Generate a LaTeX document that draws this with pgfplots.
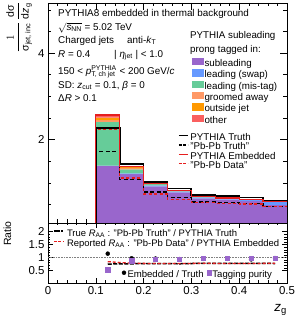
\documentclass[border=0pt]{standalone}
\usepackage{fontspec}
\setmainfont{Liberation Sans}
\usepackage{amsmath}
\usepackage{pgfplots}
\usepackage{pgfplotstable}
\pgfplotsset{compat=1.18}

\definecolor{cSub}{RGB}{153,102,204}
\definecolor{cSwap}{RGB}{102,153,255}
\definecolor{cMis}{RGB}{102,204,153}
\definecolor{cGroom}{RGB}{255,153,102}
\definecolor{cOut}{RGB}{255,153,0}
\definecolor{cOther}{RGB}{250,95,95}
\definecolor{cRed}{RGB}{230,30,30}

\pgfplotstableread{
x sub swap mis groom out other
0.125 1.39 0.01 1.01 0.04 0.06 0.06
0.175 1.20 0.02 0.09 0.03 0.02 0.01
0.225 0.92 0.02 0.03 0.01 0.005 0.005
0.275 0.78 0.02 0.01 0.005 0.003 0.002
0.325 0.64 0.025 0.01 0.003 0.001 0.001
0.375 0.61 0.03 0.007 0.002 0.0005 0.0005
0.425 0.575 0.035 0.007 0.002 0.0005 0.0005
0.475 0.49 0.075 0.004 0.001 0 0
}\stacktab

\pgfplotstableread{
x truth pbtruth emb data
0.10 0 0 0 0
0.10 2.26 1.72 2.57 2.24
0.15 1.43 1.08 1.37 1.11
0.20 1.02 0.79 0.99 0.74
0.25 0.87 0.66 0.82 0.62
0.30 0.72 0.56 0.68 0.54
0.35 0.69 0.55 0.65 0.53
0.40 0.66 0.52 0.62 0.51
0.45 0.58 0.45 0.57 0.45
0.50 0.58 0.45 0.57 0.45
}\histtab

\pgfplotstableread{
x true rep emb pur
0.125 0.75 0.84 1.15 0.53
0.175 0.76 0.78 0.97 0.88
0.225 0.77 0.77 0.96 0.94
0.275 0.76 0.77 0.94 0.94
0.325 0.78 0.78 0.95 0.96
0.375 0.78 0.77 0.95 0.96
0.425 0.78 0.77 0.93 0.96
0.475 0.77 0.78 0.98 0.97
}\ratiotab

\pgfplotsset{
  rootax/.style={scale only axis, anchor=south west, xmin=0, xmax=0.5,
    axis line style={line width=0.6bp}, tick style={line width=0.5bp, black},
    tick align=inside, xtick pos=both, ytick pos=both,
    xtick={0,0.1,0.2,0.3,0.4,0.5}, minor x tick num=4,
    /pgf/number format/assume math mode=true,
    tick label style={font=\fontsize{11.5}{11.5}\selectfont},
    clip=true},
  legax/.style={at={(0bp,0bp)}, anchor=south west, scale only axis, width=298bp, height=317bp,
    xmin=0, xmax=1, ymin=0, ymax=1, hide axis, legend cell align=left}
}

\begin{document}
\begin{tikzpicture}[x=1bp,y=1bp]
% ---------------- upper panel
\begin{axis}[rootax, at={(48bp,94bp)}, width=239bp, height=220bp,
  ymin=0.07, ymax=5.16, ytick={2,4}, yticklabels={2,4},
  minor ytick={0.5,1,1.5,2.5,3,3.5,4.5,5},
  xticklabels={},
  major tick length=7bp, minor tick length=3.5bp]
\addplot[ybar stacked, bar width=0.05, fill=cSub, draw=none] table[x=x,y=sub]{\stacktab};
\addplot[ybar stacked, bar width=0.05, fill=cSwap, draw=none] table[x=x,y=swap]{\stacktab};
\addplot[ybar stacked, bar width=0.05, fill=cMis, draw=none] table[x=x,y=mis]{\stacktab};
\addplot[ybar stacked, bar width=0.05, fill=cGroom, draw=none] table[x=x,y=groom]{\stacktab};
\addplot[ybar stacked, bar width=0.05, fill=cOut, draw=none] table[x=x,y=out]{\stacktab};
\addplot[ybar stacked, bar width=0.05, fill=cOther, draw=none] table[x=x,y=other]{\stacktab};
\addplot[const plot, black, line width=1.8bp] table[x=x,y=truth]{\histtab};
\addplot[const plot, black, line width=1.5bp, dash pattern=on 4bp off 2.5bp] table[x=x,y=pbtruth]{\histtab};
\addplot[const plot, cRed, line width=1.2bp] table[x=x,y=emb]{\histtab};
\addplot[const plot, cRed, line width=1.2bp, dash pattern=on 3bp off 2.5bp] table[x=x,y=data]{\histtab};
\end{axis}
% ---------------- ratio panel
\begin{axis}[rootax, at={(48bp,34bp)}, width=239bp, height=60bp,
  ymin=0.02, ymax=2.33, ytick={0.5,1,1.5,2}, minor y tick num=4,
  major tick length=5bp, minor tick length=2.5bp]
\addplot[gray, densely dotted, line width=0.6bp] coordinates {(0,1) (0.5,1)};
\addplot[black, line width=1.5bp, dash pattern=on 4bp off 1.5bp] table[x=x,y=true]{\ratiotab};
\addplot[cRed, line width=1.3bp, dash pattern=on 3bp off 2bp] table[x=x,y=rep]{\ratiotab};
\addplot[only marks, mark=*, black, mark size=2bp] table[x=x,y=emb]{\ratiotab};
\addplot[only marks, mark=square*, cSub, mark size=2.1bp] table[x=x,y=pur]{\ratiotab};
\end{axis}

% ---------------- legends
\begin{axis}[legax,
  legend style={at={(0.6443,0.8164)}, anchor=north west, draw=none, fill=none,
    inner sep=0pt, outer sep=0pt, row sep=0pt, column sep=1bp,
    font=\fontsize{9.8}{9.8}\selectfont,
    nodes={inner sep=0pt, text height=6.8bp, text depth=2.8bp}},
  legend image code/.code={\fill[#1] (0bp,-0.8bp) rectangle (11.5bp,6.5bp);}]
\addlegendimage{fill=cSub, draw=none}\addlegendentry{subleading}
\addlegendimage{fill=cSwap, draw=none}\addlegendentry{leading (swap)}
\addlegendimage{fill=cMis, draw=none}\addlegendentry{leading (mis-tag)}
\addlegendimage{fill=cGroom, draw=none}\addlegendentry{groomed away}
\addlegendimage{fill=cOut, draw=none}\addlegendentry{outside jet}
\addlegendimage{fill=cOther, draw=none}\addlegendentry{other}
\end{axis}

\begin{axis}[legax,
  legend style={at={(0.5973,0.5782)}, anchor=north west, draw=none, fill=none,
    inner sep=0pt, outer sep=0pt, row sep=0pt, column sep=1.5bp,
    font=\fontsize{9.8}{9.8}\selectfont,
    nodes={inner sep=0pt, text height=6.8bp, text depth=2.5bp}},
  legend image code/.code={\draw[#1] (0bp,2.8bp) -- (9bp,2.8bp);}]
\addlegendimage{black, line width=1.8bp}\addlegendentry{PYTHIA Truth}
\addlegendimage{black, line width=1.5bp, dash pattern=on 3bp off 1.5bp}\addlegendentry{"Pb-Pb Truth"}
\addlegendimage{cRed, line width=1.2bp}\addlegendentry{PYTHIA Embedded}
\addlegendimage{cRed, line width=1.2bp, dash pattern=on 3bp off 1.5bp}\addlegendentry{"Pb-Pb Data"}
\end{axis}

\begin{axis}[legax,
  legend style={at={(0.1779,0.2785)}, anchor=north west, draw=none, fill=none,
    inner sep=0pt, outer sep=0pt, row sep=0pt, column sep=2.5bp,
    font=\fontsize{9.5}{9.5}\selectfont,
    nodes={inner sep=0pt, text height=7.3bp, text depth=3.2bp}},
  legend image code/.code={\draw[#1] (0bp,3bp) -- (10bp,3bp);}]
\addlegendimage{black, line width=1.5bp, dash pattern=on 6bp off 1.5bp on 1.5bp off 1.5bp}
\addlegendentry{True \textit{R}$_{\text{AA}}$ : "Pb-Pb Truth" / PYTHIA Truth}
\addlegendimage{cRed, line width=1.3bp, dash pattern=on 3bp off 1.5bp}
\addlegendentry{Reported \textit{R}$_{\text{AA}}$ : "Pb-Pb Data" / PYTHIA Embedded}
\end{axis}

\begin{axis}[legax, legend columns=2,
  legend style={at={(0.4094,0.1467)}, anchor=north west, draw=none, fill=none,
    inner sep=0pt, outer sep=0pt, row sep=0pt,
    font=\fontsize{9.6}{9.6}\selectfont,
    nodes={inner sep=0pt, text height=7.3bp, text depth=3.2bp},
    /tikz/every odd column/.append style={column sep=1.5bp},
    /tikz/every even column/.append style={column sep=3bp}},
  legend image code/.code={\draw[#1] plot coordinates {(2.2bp,3bp)};}]
\addlegendimage{only marks, mark=*, black, mark size=2bp}\addlegendentry{Embedded / Truth}
\addlegendimage{only marks, mark=square*, cSub, mark size=2.1bp}\addlegendentry{Tagging purity}
\end{axis}

% ---------------- texts
\begin{scope}[every node/.style={anchor=base west, inner sep=0pt, font=\fontsize{9.9}{9.9}\selectfont}]
\node at (58,301) {PYTHIA8 embedded in thermal background};
\node at (58,287) {$\sqrt{\text{\textit{s}}_{\text{NN}}}$ = 5.02 TeV};
\node at (58,273.7) {Charged jets};
\node at (127,273.7) {anti-\textit{k}$_{\text{T}}$};
\node at (58,260) {\textit{R} = 0.4};
\node at (114,260) {| \textit{η}$_{\text{jet}}$ | < 1.0};
\node at (58,243) {150 < \textit{p}$^{\text{PYTHIA}}_{\text{T, ch jet}}$ < 200 GeV/\textit{c}};
\node at (58,229) {SD: \textit{z}$_{\text{cut}}$ = 0.1, \textit{β} = 0};
\node at (58,215.5) {Δ\textit{R} > 0.1};
\node[font=\fontsize{9.8}{9.8}\selectfont] at (190,279) {PYTHIA subleading};
\node[font=\fontsize{9.8}{9.8}\selectfont] at (190,265) {prong tagged in:};
\end{scope}
\node[rotate=90, anchor=east, inner sep=0pt, font=\fontsize{10.5}{10.5}\selectfont] at (19,315)
  {$\dfrac{1}{\text{σ}_{\text{jet, inc}}}\,\dfrac{\text{dσ}}{\text{d}\textit{z}_{\text{g}}}$};
\node[rotate=90, anchor=center, inner sep=0pt, font=\fontsize{10.5}{10.5}\selectfont] at (7.5,83.5) {Ratio};
\node[anchor=base east, inner sep=0pt, font=\fontsize{13.5}{13.5}\selectfont] at (287,6) {\textit{z}$_{\text{g}}$};

\pgfresetboundingbox
\useasboundingbox (0,0) rectangle (298,317);
\end{tikzpicture}
\end{document}
